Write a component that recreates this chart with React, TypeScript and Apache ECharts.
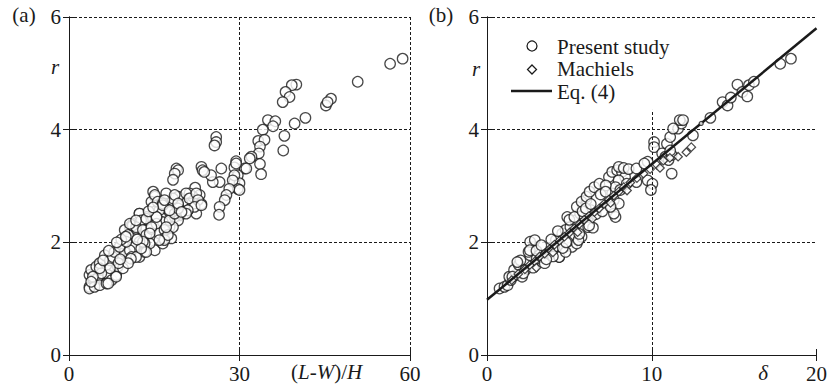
import React, { useEffect, useRef } from "react";
import * as echarts from "echarts";

const xTicksA = [0, 30, 60];
const xTicksB = [0, 10, 20];
const yTicks = [0, 2, 4, 6];

// Panel (a): r vs (L-W)/H
const pointsA: number[][] = [
  [58.7, 5.26], [56.5, 5.17], [50.8, 4.85], [46.1, 4.55], [45.2, 4.43], [45.5, 4.49],
  [41.6, 4.21], [39.7, 4.11], [37.9, 3.89], [37.7, 3.63], [40.0, 4.8], [39.2, 4.79],
  [38.1, 4.67], [38.8, 4.58], [37.6, 4.49], [35.0, 4.17], [36.3, 4.15], [35.9, 4.06],
  [34.1, 4.0], [33.3, 3.8], [34.4, 3.82], [33.6, 3.7], [33.4, 3.58], [33.6, 3.39],
  [33.8, 3.21], [32.1, 3.52], [31.8, 3.49], [30.9, 3.31], [31.2, 3.31], [29.4, 3.44],
  [29.1, 3.33], [29.7, 3.19], [29.1, 3.07], [30.0, 3.05], [29.7, 2.95], [30.0, 2.93],
  [29.4, 3.4], [29.1, 3.19], [28.8, 3.1], [28.2, 2.95], [27.7, 2.84], [27.4, 2.75],
  [26.5, 2.63], [26.4, 2.49], [26.8, 3.31], [26.5, 3.07], [25.3, 3.07], [25.0, 3.19],
  [25.9, 3.87], [25.9, 3.78], [25.6, 3.72], [23.3, 3.34], [23.5, 3.28], [23.8, 3.25],
  [22.2, 2.97], [23.0, 2.84], [21.8, 2.81], [22.4, 2.51], [23.3, 2.68], [18.9, 3.31],
  [19.2, 3.28], [18.6, 3.22], [18.3, 3.11], [21.2, 2.87], [20.0, 2.69], [20.9, 2.57],
  [19.5, 2.48], [19.2, 2.81], [14.8, 2.9], [15.1, 2.81], [14.5, 2.72], [16.5, 2.72],
  [17.1, 2.6], [15.9, 2.57], [17.7, 2.54], [18.6, 2.45], [19.5, 2.51], [19.2, 2.66],
  [18.3, 2.78], [20.6, 2.87], [21.2, 2.78], [22.4, 2.87], [22.7, 2.75], [22.1, 2.63],
  [20.9, 2.57], [23.3, 2.66], [20.6, 2.51], [19.2, 2.39], [17.7, 2.27], [16.5, 2.36],
  [15.4, 2.45], [13.6, 2.45], [12.4, 2.51], [13.0, 2.39], [11.2, 2.33], [10.7, 2.27],
  [11.8, 2.24], [18.3, 2.27], [3.6, 1.21], [4.5, 1.27], [4.2, 1.36], [3.6, 1.42],
  [5.1, 1.39], [5.7, 1.51], [6.6, 1.6], [4.8, 1.54], [6.9, 1.42], [7.5, 1.33],
  [8.3, 1.42], [8.6, 1.57], [7.7, 1.68], [8.9, 1.77], [9.8, 1.83], [9.5, 1.98],
  [9.8, 2.22], [10.4, 2.13], [11.2, 2.3], [12.4, 2.51], [12.7, 2.39], [11.8, 2.27],
  [13.0, 2.22], [13.6, 2.13], [14.5, 2.24], [15.4, 2.33], [15.9, 2.16], [16.8, 2.22],
  [17.7, 2.39], [18.6, 2.51], [19.2, 2.6], [15.1, 2.84], [15.6, 2.72], [16.5, 2.69],
  [17.1, 2.87], [18.6, 2.84], [19.2, 2.69], [19.8, 2.54], [15.1, 1.86], [14.2, 1.98],
  [13.3, 1.98], [12.4, 2.01], [11.5, 1.92], [10.7, 1.86], [11.0, 1.74], [12.4, 1.74],
  [13.3, 1.83], [16.5, 1.98], [16.8, 2.07], [18.0, 2.07], [3.9, 1.51], [4.8, 1.57],
  [5.4, 1.63], [6.3, 1.77], [7.2, 1.68], [7.7, 1.74], [8.0, 1.83], [8.9, 1.92],
  [10.1, 2.01], [10.7, 2.33], [11.8, 2.39], [13.6, 2.42], [14.5, 2.27], [15.4, 2.45],
  [16.5, 2.66], [16.8, 2.75], [17.7, 2.57], [13.6, 1.83], [11.8, 1.74], [10.9, 1.71],
  [13.0, 2.01], [14.2, 2.16], [16.8, 2.04], [17.4, 2.13], [17.1, 2.27], [15.9, 2.04],
  [3.6, 1.18], [4.5, 1.21], [5.4, 1.24], [6.6, 1.27], [6.9, 1.27], [8.3, 1.39],
  [9.5, 1.54], [8.7, 1.63], [10.4, 1.63], [12.7, 1.89], [7.2, 1.54], [5.7, 1.45],
  [4.2, 1.39], [3.9, 1.3], [5.4, 1.54], [9.2, 2.05], [8.4, 2.0], [10.0, 2.1],
  [14.0, 2.55], [14.8, 2.62], [12.0, 2.05], [9.0, 1.7], [6.0, 1.68], [7.0, 1.85]
];

// Panel (b): r vs delta, present study
const presentB: number[][] = [
  [0.76, 1.18], [1.06, 1.21], [1.25, 1.24], [1.45, 1.33], [1.35, 1.39], [1.74, 1.42],
  [1.64, 1.51], [1.93, 1.6], [2.03, 1.68], [2.33, 1.51], [2.62, 1.77], [2.81, 1.92],
  [2.52, 1.83], [3.01, 1.71], [3.3, 1.74], [3.5, 1.63], [3.79, 1.83], [4.09, 1.92],
  [4.38, 1.74], [4.18, 2.04], [4.57, 2.16], [4.77, 2.22], [5.06, 2.27], [5.35, 2.39],
  [5.65, 2.51], [5.84, 2.63], [6.04, 2.75], [5.16, 1.92], [4.87, 2.01], [5.45, 1.98],
  [5.74, 2.1], [6.14, 2.45], [6.14, 2.27], [6.33, 2.57], [2.62, 2.01], [2.9, 2.04],
  [2.6, 1.86], [1.84, 1.65], [1.54, 1.39], [2.13, 1.39], [4.87, 2.45], [5.45, 2.63],
  [5.74, 2.72], [6.04, 2.81], [6.23, 2.9], [6.52, 2.98], [6.82, 3.04], [7.5, 2.63],
  [7.7, 2.75], [7.6, 2.87], [7.8, 2.45], [7.4, 3.16], [7.6, 3.25], [7.9, 3.28],
  [8.19, 3.25], [8.38, 3.16], [7.99, 3.1], [8.48, 3.04], [7.8, 2.98], [7.21, 3.01],
  [8.09, 2.93], [8.0, 3.34], [8.3, 3.32], [8.6, 3.3], [9.07, 3.31], [9.07, 3.07],
  [9.75, 3.1], [10.04, 3.04], [9.95, 2.93], [10.14, 3.78], [10.14, 3.69], [10.92, 3.75],
  [11.12, 3.87], [11.6, 4.02], [11.8, 4.11], [11.7, 4.17], [11.9, 4.17], [11.3, 4.02],
  [10.63, 3.58], [10.83, 3.52], [11.02, 3.46], [11.21, 3.55], [11.12, 3.63], [11.21, 3.22],
  [9.75, 3.43], [9.55, 3.4], [12.5, 3.9], [13.56, 4.21], [14.3, 4.49], [14.6, 4.43],
  [14.8, 4.57], [15.2, 4.8], [15.5, 4.67], [15.8, 4.59], [15.9, 4.79], [16.2, 4.85],
  [17.8, 5.17], [18.45, 5.26], [6.43, 2.26], [5.55, 2.04], [4.38, 1.74], [4.77, 1.83],
  [3.0, 1.85], [3.3, 1.95], [3.9, 2.05], [4.3, 2.2], [4.6, 1.9], [5.0, 2.4],
  [5.3, 2.45], [5.8, 2.55], [6.0, 2.6], [6.3, 2.68], [6.6, 2.5], [6.9, 2.85],
  [7.2, 2.9], [7.0, 2.55], [6.2, 2.3], [5.6, 2.15], [4.8, 2.0], [4.0, 1.75],
  [3.6, 1.7], [2.2, 1.45], [2.8, 1.55], [7.7, 2.51], [8.0, 2.69], [7.5, 2.63]
];
const smallB: number[][] = [[13.0, 4.11]];

// Panel (b): Machiels
const machielsB: number[][] = [
  [1.5, 1.33], [1.9, 1.44], [2.3, 1.52], [2.6, 1.6], [2.9, 1.66], [3.2, 1.75],
  [3.5, 1.8], [3.8, 1.88], [4.1, 1.96], [4.4, 2.03], [4.7, 2.1], [5.0, 2.17],
  [5.3, 2.25], [5.6, 2.32], [5.9, 2.4], [6.2, 2.47], [6.5, 2.53], [6.8, 2.6],
  [7.1, 2.68], [7.4, 2.76], [7.7, 2.83], [8.0, 2.9], [8.3, 2.98], [8.7, 3.06],
  [9.1, 3.14], [9.5, 3.22], [9.9, 3.3], [10.3, 3.38], [10.7, 3.45], [11.1, 3.5],
  [11.6, 3.52], [12.1, 3.6], [12.4, 3.69], [3.0, 1.55], [4.0, 1.82], [5.5, 2.18],
  [6.4, 2.42], [7.5, 2.7], [8.5, 2.92], [10.5, 3.32]
];

// Eq. (4)
const eqLine: number[][] = [[0, 0.98], [20, 5.8]];

const FONT = "Liberation Serif";
const FS = 21;
const INK = "#1a1a1a";

export default function App() {
  const ref = useRef<HTMLDivElement>(null);
  useEffect(() => {
    document.body.style.margin = "0";
    if (!ref.current) return;
    const chart = echarts.init(ref.current, null, { renderer: "svg" });
    const dash = { color: INK, width: 1, type: [3, 2] as number[] };
    const label = { fontFamily: FONT, fontSize: FS, color: INK, margin: 8 };
    const mkX = (grid: number, max: number, interval: number, split: boolean) => [
      {
        type: "value", gridIndex: grid, min: 0, max, interval, position: "bottom",
        axisLine: { show: true, lineStyle: { color: INK } },
        axisTick: { show: true, inside: true, length: 6, lineStyle: { color: INK } },
        axisLabel: { ...label, formatter: (v: number) => String(v) },
        splitLine: { show: split, lineStyle: dash },
      },
      {
        type: "value", gridIndex: grid, min: 0, max, interval, position: "top",
        axisLine: { show: true, lineStyle: { color: INK } },
        axisTick: { show: true, inside: true, length: 6, lineStyle: { color: INK } },
        axisLabel: { show: false }, splitLine: { show: false },
      },
    ];
    const mkY = (grid: number) => [
      {
        type: "value", gridIndex: grid, min: yTicks[0], max: yTicks[3], interval: 2, position: "left",
        axisLine: { show: true, lineStyle: { color: INK } },
        axisTick: { show: true, inside: true, length: 6, lineStyle: { color: INK } },
        axisLabel: { ...label },
        splitLine: { show: true, lineStyle: dash },
      },
      {
        type: "value", gridIndex: grid, min: yTicks[0], max: yTicks[3], interval: 2, position: "right",
        axisLine: { show: true, lineStyle: { color: INK } },
        axisTick: { show: true, inside: true, length: 6, lineStyle: { color: INK } },
        axisLabel: { show: false }, splitLine: { show: false },
      },
    ];
    const circleStyle = { color: "#fff", borderColor: INK, borderWidth: 1.25 };
    const txt = (x: number, y: number, text: string, italic = false, align = "center") => ({
      type: "text", x, y,
      style: {
        text, fontFamily: FONT, fontSize: FS, fontStyle: italic ? "italic" : "normal",
        fill: INK, align, verticalAlign: "middle",
      },
    });
    chart.setOption({
      animation: false,
      backgroundColor: "#fff",
      grid: [
        { left: 69, top: 17, width: 341, height: 338 },
        { left: 487, top: 17, width: 341, height: 338 },
      ],
      xAxis: [...mkX(0, xTicksA[2], xTicksA[1], true), ...mkX(1, xTicksB[2], xTicksB[1], false)],
      yAxis: [...mkY(0), ...mkY(1)],
      series: [
        {
          name: "(a)", type: "scatter", xAxisIndex: 0, yAxisIndex: 0, data: pointsA,
          symbol: "circle", symbolSize: 10.5, itemStyle: circleStyle, z: 3,
        },
        {
          name: "Present study", type: "scatter", xAxisIndex: 2, yAxisIndex: 2, data: presentB,
          symbol: "circle", symbolSize: 10.5, itemStyle: circleStyle, z: 3,
          markLine: {
            silent: true, symbol: "none", label: { show: false },
            lineStyle: dash,
            data: [[{ coord: [10, 0] }, { coord: [10, 4.35] }]],
          },
        },
        {
          name: "Present study small", type: "scatter", xAxisIndex: 2, yAxisIndex: 2, data: smallB,
          symbol: "circle", symbolSize: 4, itemStyle: circleStyle, z: 6,
        },
        {
          name: "Machiels", type: "scatter", xAxisIndex: 2, yAxisIndex: 2, data: machielsB,
          symbol: "diamond", symbolSize: 8.5, itemStyle: circleStyle, z: 4,
        },
        {
          name: "Eq. (4)", type: "line", xAxisIndex: 2, yAxisIndex: 2, data: eqLine,
          symbol: "none", lineStyle: { color: INK, width: 2.5 }, z: 5,
        },
      ],
      graphic: [
        txt(24, 15, "(a)"),
        txt(441, 15, "(b)"),
        txt(55, 67, "r", true),
        txt(476, 69, "r", true),
        {
          type: "text", x: 291, y: 372,
          style: {
            text: "({i|L}-{i|W})/{i|H}", fontFamily: FONT, fontSize: FS, fill: INK,
            align: "left", verticalAlign: "middle",
            rich: { i: { fontStyle: "italic", fontFamily: FONT, fontSize: FS, fill: INK } },
          },
        },
        txt(763, 373, "δ", true),
        { type: "circle", shape: { cx: 532, cy: 46, r: 5 }, style: { fill: "#fff", stroke: INK, lineWidth: 1.25 } },
        { type: "polygon", shape: { points: [[532, 65], [536.5, 69.5], [532, 74], [527.5, 69.5]] }, style: { fill: "#fff", stroke: INK, lineWidth: 1.25 } },
        { type: "line", shape: { x1: 511, y1: 91, x2: 552, y2: 91 }, style: { stroke: INK, lineWidth: 2.5 } },
        txt(557, 47, "Present study", false, "left"),
        txt(557, 69, "Machiels", false, "left"),
        txt(557, 92, "Eq. (4)", false, "left"),
      ],
    });
    return () => chart.dispose();
  }, []);
  return <div ref={ref} style={{ width: 830, height: 387 }} />;
}
